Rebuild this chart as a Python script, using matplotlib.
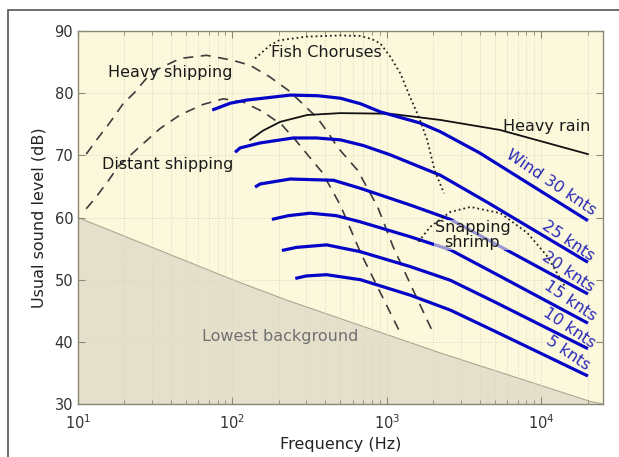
import matplotlib
matplotlib.use("Agg")
import matplotlib.pyplot as plt
from matplotlib.patches import Rectangle

# ambient ocean noise levels (frequency in Hz, level in dB)
floor_f = [10, 100, 225, 2220, 20800, 25000]
floor_db = [60.0, 50.0, 46.7, 38.2, 30.4, 30.0]

heavy_ship_f = [11.3, 13.2, 16, 19.7, 23, 30, 46, 68, 100, 130, 175, 229, 282,
                355, 417, 479, 646, 871, 1096, 1479, 1995]
heavy_ship_db = [70.2, 72.5, 75.2, 78.4, 80.0, 83.4, 85.6, 86.1, 85.3, 84.5, 82.6,
                 80.5, 78.4, 76.0, 73.6, 71.3, 67.6, 61.7, 55.3, 48.3, 41.4]

distant_ship_f = [11.3, 13.2, 15.8, 18.2, 25.1, 33.9, 45.7, 64.6, 87.1, 117, 158,
                  209, 255, 316, 380, 499, 676, 1222]
distant_ship_db = [61.4, 63.4, 66.0, 68.2, 71.4, 74.3, 76.5, 78.2, 79.1, 78.6, 77.0,
                   74.9, 72.5, 69.7, 67.3, 62.0, 54.3, 41.4]

fish_f = [140, 175, 200, 300, 500, 680, 800, 906, 1050, 1220, 1410, 1620, 1820,
          2040, 2340]
fish_db = [85.6, 87.7, 88.5, 89.1, 89.3, 89.2, 88.7, 88.0, 85.9, 83.2, 79.4, 76.0,
           72.5, 67.5, 63.9]

shrimp_f = [1600, 1905, 2570, 3470, 5430, 8130, 10960, 14320]
shrimp_db = [56.1, 58.5, 60.9, 61.7, 60.7, 57.5, 53.7, 48.7]

rain_f = [130, 158, 204, 305, 499, 1047, 2218, 5370, 20000]
rain_db = [72.5, 74.0, 75.4, 76.5, 76.8, 76.7, 75.7, 74.1, 70.2]

wind_f = {
    30: [74, 97, 124, 237, 355, 499, 676, 906, 1644, 2218, 3981, 20000],
    25: [104, 112, 151, 247, 350, 499, 700, 1047, 2218, 4500, 20000],
    20: [140, 151, 237, 319, 450, 673, 1419, 2576, 5000, 20000],
    15: [180, 230, 319, 470, 673, 1419, 2576, 5000, 20000],
    10: [209, 260, 407, 673, 1419, 2576, 5000, 20000],
    5: [255, 300, 407, 673, 1419, 2576, 5000, 20000],
}
wind_db = {
    30: [77.3, 78.4, 78.9, 79.7, 79.6, 79.2, 78.3, 77.0, 75.2, 73.8, 70.4, 59.5],
    25: [70.5, 71.2, 72.0, 72.8, 72.8, 72.5, 71.6, 70.1, 66.8, 62.4, 52.8],
    20: [64.9, 65.4, 66.2, 66.1, 66.0, 64.7, 62.0, 59.7, 55.8, 47.7],
    15: [59.7, 60.3, 60.7, 60.3, 59.3, 56.9, 54.8, 51.0, 43.0],
    10: [54.7, 55.2, 55.6, 54.5, 52.1, 49.9, 46.4, 38.9],
    5: [50.2, 50.6, 50.8, 50.0, 47.5, 45.1, 41.7, 34.5],
}
wind_labels = ["Wind 30 knts", "25 knts", "20 knts", "15 knts", "10 knts", "5 knts"]
wind_label_f = [11600, 15000, 15000, 15450, 15200, 14760]
wind_label_db = [65.6, 56.2, 51.2, 46.6, 42.2, 38.2]

BG = "#fcf8dc"
BLUE = "#0505c8"
FS = 11.5

fig = plt.figure(figsize=(6.19, 4.57), dpi=100)
ax = fig.add_axes([0.126, 0.116, 0.848, 0.816])
ax.set_facecolor(BG)

ax.fill_between(floor_f, floor_db, 30, color="#e5e0cb", zorder=0.3, lw=0)
ax.plot(floor_f, floor_db, color="#aaa690", lw=0.8, zorder=0.4)

ax.plot(heavy_ship_f, heavy_ship_db, color="#3c3c3c", lw=1.2, dashes=(6, 4.5))
ax.plot(distant_ship_f, distant_ship_db, color="#3c3c3c", lw=1.2, dashes=(6, 4.5))
ax.plot(fish_f, fish_db, color="#222222", lw=1.3, ls=":", zorder=4)
ax.plot(shrimp_f, shrimp_db, color="#222222", lw=1.3, ls=":", zorder=4)
ax.plot(rain_f, rain_db, color="#111111", lw=1.3)

for k in wind_f:
    ax.plot(wind_f[k], wind_db[k], color=BLUE, lw=2.3, solid_capstyle="butt",
            solid_joinstyle="round")

for lab, x, y in zip(wind_labels, wind_label_f, wind_label_db):
    ax.text(x, y, lab, color="#2a2ab8", fontsize=FS, rotation=-34,
            rotation_mode="anchor", ha="center", va="center")

ax.text(39.4, 83.4, "Heavy shipping", fontsize=FS, color="#1a1a1a",
        ha="center", va="center")
ax.text(38.3, 68.6, "Distant shipping", fontsize=FS, color="#1a1a1a",
        ha="center", va="center")
ax.text(405, 86.6, "Fish Choruses", fontsize=FS, color="#1a1a1a",
        ha="center", va="center")
ax.text(10800, 74.7, "Heavy rain", fontsize=FS, color="#1a1a1a",
        ha="center", va="center")
ax.text(3573, 57.2, "Snapping\nshrimp", fontsize=FS, color="#1a1a1a",
        ha="center", va="center", linespacing=0.95, zorder=3,
        bbox=dict(facecolor=BG, alpha=0.6, edgecolor="none", pad=0.5))
ax.text(204, 40.8, "Lowest background", fontsize=FS, color="#707070",
        ha="center", va="center")

ax.set_xscale("log")
ax.set_xlim(10, 25000)
ax.set_ylim(30, 90)
ax.set_yticks([30, 40, 50, 60, 70, 80, 90])
ax.set_xticks([10, 100, 1000, 10000])

ax.set_axisbelow("line")
ax.grid(True, which="major", axis="both", color="#dcd7bc", lw=0.7, ls=":")
ax.grid(True, which="minor", axis="x", color="#dcd7bc", lw=0.7, ls=":")

ax.tick_params(which="both", direction="in", top=True, right=True,
               color="#8c8877", labelsize=10.5, labelcolor="#333333")
ax.tick_params(which="major", length=5, width=0.8)
ax.tick_params(which="minor", length=3, width=0.6)
ax.tick_params(axis="x", pad=7)
for s in ax.spines.values():
    s.set_color("#8c8877")
    s.set_linewidth(1.0)

ax.set_xlabel("Frequency (Hz)", fontsize=FS, color="#222222", labelpad=3)
ax.set_ylabel("Usual sound level (dB)", fontsize=FS, color="#222222", labelpad=6)

# outer frame, only left and top edges fall inside the figure
fig.patches.append(Rectangle((8 / 619, -0.1), 1.2, 1.1 - 10 / 457,
                             transform=fig.transFigure, fill=False,
                             edgecolor="#555555", lw=1.2))

fig.savefig("out.png", dpi=100)
